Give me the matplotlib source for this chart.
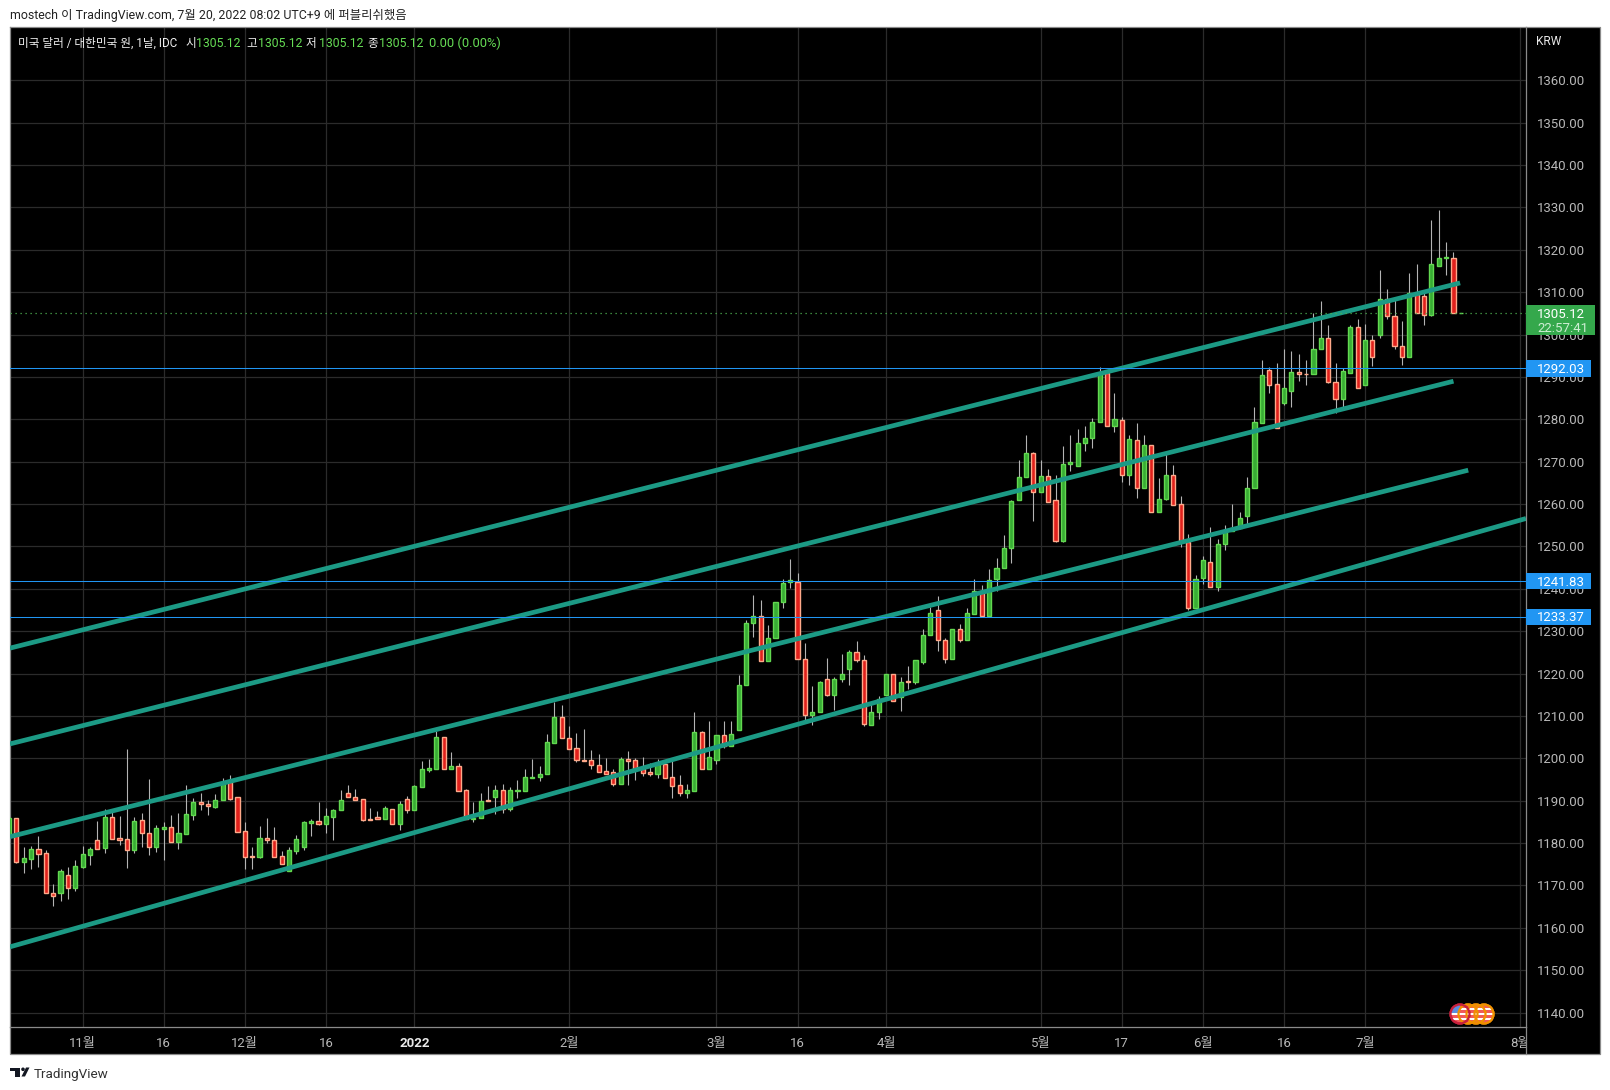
import matplotlib
matplotlib.use("Agg")
import matplotlib.pyplot as plt
from matplotlib.patches import Rectangle, Circle, Polygon
from matplotlib.transforms import Bbox
import numpy as np

plt.rcParams['font.family'] = ['Roboto', 'Noto Sans CJK KR', 'DejaVu Sans']

# first value is the bar cut off by the left edge of the chart
opens = [1181.9,
    1185.8,1175.6,1176.3,1178.7,1177.6,1168.3,1168.3,1172.4,1169.4,1174.4,
    1177.2,1180.6,1178.9,1186.1,1181.2,1180.9,1178.4,1185.4,1182.3,1179.1,
    1183.4,1183.9,1180.3,1182.2,1186.7,1189.6,1189.1,1188.5,1190.2,1194.3,
    1190.8,1182.8,1176.9,1176.8,1181.1,1180.6,1176.9,1173.5,1178.2,1179.1,
    1184.8,1185.1,1184.6,1186.1,1187.9,1191.7,1190.8,1190.3,1185.6,1186.1,
    1185.6,1188.0,1184.5,1190.5,1187.8,1193.3,1197.2,1197.5,1205.0,1197.5,
    1198.1,1192.4,1185.7,1185.9,1190.1,1190.8,1192.6,1188.0,1192.3,1192.3,
    1195.4,1195.7,1196.4,1203.7,1209.7,1204.7,1202.4,1199.6,1199.5,1198.3,
    1196.9,1196.8,1194.0,1199.8,1199.5,1197.4,1196.7,1196.4,1198.6,1195.5,
    1193.6,1191.9,1192.3,1206.2,1197.5,1199.7,1205.5,1203.0,1206.7,1217.3,
    1232.0,1233.5,1223.0,1228.4,1236.9,1241.7,1241.5,1223.5,1210.2,1210.9,
    1218.6,1215.0,1218.7,1221.1,1225.0,1223.3,1207.9,1210.9,1215.0,1219.8,
    1214.5,1218.2,1218.0,1222.8,1229.1,1234.9,1228.0,1223.5,1230.6,1228.0,
    1234.1,1239.4,1233.6,1242.2,1244.9,1249.6,1260.9,1266.3,1272.1,1262.8,
    1266.6,1261.0,1251.4,1269.4,1268.9,1274.3,1275.5,1279.3,1290.9,1278.4,
    1279.9,1266.8,1275.1,1263.7,1274.0,1258.1,1261.1,1266.9,1260.0,1251.1,
    1235.4,1242.5,1246.3,1240.4,1250.5,1253.7,1254.4,1257.3,1263.8,1279.2,
    1291.7,1288.3,1283.8,1286.8,1291.2,1290.8,1290.6,1296.6,1299.2,1288.8,
    1284.9,1290.9,1301.9,1288.0,1298.8,1299.9,1308.3,1304.5,1297.4,1294.7,
    1309.9,1309.0,1304.6,1316.2,1318.0,1318.0,1305.12]

highs = [1185.8,
    1185.8,1179.1,1179.4,1181.7,1178.3,1170.3,1173.9,1174.3,1176.0,1179.3,
    1179.1,1185.2,1188.0,1187.8,1186.4,1202.2,1186.1,1187.2,1195.1,1184.3,
    1185.0,1186.6,1187.1,1193.7,1190.6,1191.8,1190.2,1191.6,1195.3,1196.1,
    1190.8,1185.0,1179.0,1184.0,1185.9,1183.8,1178.1,1179.0,1181.8,1185.1,
    1185.7,1189.7,1188.3,1188.0,1192.5,1193.7,1192.8,1190.3,1188.3,1187.6,
    1188.7,1188.0,1189.9,1191.0,1193.6,1199.4,1199.8,1206.5,1205.0,1201.5,
    1198.8,1192.7,1189.6,1191.8,1193.4,1193.7,1193.9,1193.2,1194.9,1197.5,
    1199.8,1198.2,1205.7,1213.4,1212.6,1207.7,1206.0,1207.0,1202.0,1201.0,
    1200.1,1197.4,1200.3,1201.7,1200.1,1200.3,1198.8,1199.8,1198.8,1199.4,
    1196.0,1193.9,1211.0,1206.5,1208.9,1205.5,1208.9,1208.9,1219.6,1232.6,
    1238.5,1237.3,1231.4,1237.0,1242.3,1247.0,1243.7,1227.2,1217.0,1218.3,
    1223.6,1219.3,1224.6,1225.5,1227.6,1224.3,1213.0,1214.8,1219.8,1220.0,
    1219.1,1221.7,1223.3,1230.4,1235.6,1238.2,1228.5,1230.6,1231.8,1235.4,
    1242.3,1240.9,1244.6,1247.3,1252.7,1261.0,1270.5,1276.4,1272.3,1270.3,
    1268.3,1266.9,1273.7,1276.4,1277.8,1278.5,1280.3,1292.4,1290.9,1286.3,
    1280.6,1276.2,1279.2,1276.4,1274.0,1266.2,1271.9,1269.3,1262.0,1253.0,
    1243.3,1247.8,1254.7,1251.8,1255.1,1260.1,1258.2,1266.5,1282.8,1294.0,
    1292.4,1293.4,1296.5,1296.2,1295.5,1294.1,1305.2,1307.9,1302.2,1293.4,
    1292.1,1302.2,1303.6,1302.4,1300.0,1315.2,1310.7,1308.3,1303.1,1314.5,
    1316.6,1309.8,1327.1,1329.4,1321.9,1319.5,1305.12]

lows = [1181.9,
    1175.2,1173.0,1173.9,1174.4,1168.1,1165.2,1166.4,1166.9,1168.7,1174.2,
    1174.9,1178.7,1177.6,1181.0,1179.5,1174.2,1177.6,1179.1,1177.2,1177.9,
    1176.1,1180.3,1178.6,1182.2,1185.4,1187.8,1186.6,1188.3,1190.2,1190.2,
    1182.7,1173.9,1173.9,1176.5,1180.0,1176.8,1175.1,1173.5,1177.4,1178.4,
    1181.7,1184.3,1182.4,1180.7,1187.7,1190.9,1190.2,1185.3,1185.4,1185.6,
    1185.6,1184.5,1183.1,1187.0,1187.8,1193.3,1196.8,1197.5,1197.5,1197.5,
    1192.3,1185.7,1184.9,1185.9,1190.0,1186.8,1187.0,1187.5,1190.6,1192.3,
    1195.4,1194.6,1196.4,1203.7,1204.7,1202.3,1199.2,1199.4,1197.5,1196.8,
    1196.4,1193.5,1194.0,1193.7,1194.9,1195.8,1195.8,1195.3,1195.4,1190.6,
    1191.1,1190.6,1192.3,1197.5,1197.5,1198.7,1202.5,1203.0,1206.7,1217.3,
    1228.6,1223.0,1223.0,1228.4,1235.5,1240.2,1223.5,1208.5,1207.8,1210.9,
    1214.7,1211.3,1218.0,1217.2,1222.7,1207.6,1207.9,1209.3,1215.0,1213.6,
    1211.1,1216.3,1217.6,1222.3,1229.1,1225.3,1222.5,1223.5,1227.4,1228.0,
    1234.1,1233.4,1233.6,1239.6,1244.9,1246.0,1260.9,1266.3,1255.9,1262.8,
    1260.4,1251.0,1251.0,1267.7,1268.9,1272.6,1273.3,1279.3,1278.4,1277.1,
    1265.1,1264.6,1261.5,1263.7,1258.1,1258.1,1260.9,1259.7,1249.8,1234.9,
    1235.4,1241.1,1240.4,1239.4,1249.1,1253.7,1254.1,1254.5,1263.8,1279.2,
    1286.1,1278.0,1283.3,1283.0,1289.0,1288.0,1290.6,1296.6,1288.5,1281.6,
    1282.3,1290.9,1287.5,1288.0,1292.5,1299.3,1303.6,1296.5,1292.9,1294.7,
    1305.2,1302.2,1304.3,1316.2,1314.0,1305.2,1305.12]

closes = [1185.8,
    1175.6,1176.4,1178.7,1177.5,1168.3,1167.4,1173.3,1169.4,1174.5,1177.3,
    1178.5,1178.7,1186.1,1181.0,1180.8,1178.4,1185.1,1182.4,1179.1,1183.5,
    1183.9,1180.3,1182.3,1186.8,1189.8,1189.1,1188.8,1190.1,1194.3,1190.5,
    1182.7,1176.8,1176.7,1181.1,1180.6,1176.8,1175.1,1178.3,1180.9,1184.9,
    1185.1,1184.6,1186.3,1187.7,1190.1,1190.9,1190.2,1185.5,1185.4,1185.6,
    1188.2,1184.5,1189.3,1187.8,1193.4,1197.4,1197.6,1205.0,1197.5,1198.1,
    1192.3,1185.7,1186.0,1190.0,1190.0,1192.4,1188.0,1192.4,1192.5,1195.5,
    1195.7,1196.4,1203.8,1209.7,1204.7,1202.3,1199.5,1199.4,1198.3,1196.8,
    1196.4,1194.0,1199.8,1199.4,1197.3,1196.6,1196.4,1198.6,1195.4,1193.5,
    1191.9,1192.4,1206.2,1197.5,1200.2,1205.5,1203.0,1205.7,1217.4,1232.0,
    1233.5,1223.0,1228.5,1237.0,1241.3,1242.0,1223.5,1210.2,1211.0,1218.1,
    1215.0,1218.6,1220.0,1225.0,1223.2,1208.1,1211.0,1214.1,1219.8,1213.6,
    1218.1,1218.0,1223.1,1229.2,1234.2,1228.0,1223.5,1230.6,1228.0,1234.2,
    1239.4,1233.6,1242.0,1244.9,1249.6,1260.7,1266.4,1272.1,1262.8,1266.6,
    1260.4,1251.4,1269.5,1269.9,1274.4,1275.6,1279.4,1290.9,1278.4,1280.1,
    1266.8,1275.4,1263.7,1274.0,1258.1,1261.2,1266.9,1259.9,1251.0,1235.4,
    1242.3,1246.8,1240.4,1250.6,1253.7,1254.4,1256.7,1263.8,1279.4,1290.5,
    1288.0,1278.0,1287.4,1291.2,1290.6,1290.6,1296.6,1299.2,1288.7,1284.9,
    1291.4,1301.9,1287.5,1298.8,1294.7,1308.3,1304.4,1297.3,1294.7,1309.9,
    1305.2,1304.6,1316.6,1318.0,1318.2,1305.2,1305.12]

# channel lines: bar index and price at both ends
channelX = [[-0.86, 195.9], [-0.86, 195.0], [-0.86, 197.0], [-0.86, 204.84]]
channelY = [[1226.0, 1312.2], [1203.4, 1289.0], [1181.5, 1268.0], [1155.5, 1256.6]]

levels = [1292.03, 1241.83, 1233.37]
lastPrice = 1305.12
countdown = "22:57:41"

priceTicks = list(range(1140, 1370, 10))
timeTicks = [9, 20, 31, 42, 54, 75, 95, 106, 118, 139, 150, 161, 172, 183, 204]
timeLabels = ["11월", "16", "12월", "16", "2022", "2월", "3월", "16", "4월", "5월", "17", "6월", "16", "7월", "8월"]

W, H = 1610, 1090
fig = plt.figure(figsize=(W / 100, H / 100), dpi=100, facecolor="white")

# black strips behind the price and time scales
fig.add_artist(Rectangle((1526 / W, (H - 1054) / H), 74 / W, 1027 / H, transform=fig.transFigure,
                         facecolor="black", edgecolor="none", zorder=-1))
fig.add_artist(Rectangle((10 / W, (H - 1054) / H), 1590 / W, 27 / H, transform=fig.transFigure,
                         facecolor="black", edgecolor="none", zorder=-1))

ax = fig.add_axes([10 / W, (H - 1027) / H, 1516 / W, 1000 / H], facecolor="black")
ax.set_xlim(-0.86, 204.84)
ax.set_ylim(1136.58, 1372.6)

gridColor = "#2b2b2b"
ax.set_yticks(priceTicks)
ax.set_yticklabels(["%.2f" % p for p in priceTicks])
ax.set_xticks(timeTicks)
ax.set_xticklabels(timeLabels)
ax.yaxis.tick_right()
ax.grid(True, color=gridColor, linewidth=0.9)
ax.set_axisbelow(True)
ax.tick_params(axis="y", length=0, pad=8, labelsize=9.5, labelcolor="#b8b8b8")
ax.tick_params(axis="x", length=0, pad=7.5, labelsize=9.5, labelcolor="#b8b8b8")
for s in ax.spines.values():
    s.set_color("#8a8a8a")
    s.set_linewidth(0.9)

for lab, txt in zip(ax.get_xticklabels(), timeLabels):
    if txt == "2022":
        lab.set_fontweight("bold")
        lab.set_color("#e8e8e8")
    if txt == "8월":
        lab.set_clip_on(True)
        lab.set_clip_box(Bbox([[0, 0], [1526, H]]))

x = np.arange(len(opens)) - 1
o = np.array(opens)
c = np.array(closes)
up = c >= o
ax.vlines(x, lows, highs, color="#b4b4b4", linewidth=0.8, zorder=2)
ax.bar(x[up], (c - o)[up], bottom=o[up], width=0.56, color="#38ac34", edgecolor="#62d850",
       linewidth=1.0, zorder=3)
ax.bar(x[~up], (c - o)[~up], bottom=o[~up], width=0.56, color="#e0211c", edgecolor="#ffa98a",
       linewidth=1.0, zorder=3)

for cx, cy in zip(channelX, channelY):
    ax.plot(cx, cy, color="#1c9a85", linewidth=3.4, solid_capstyle="butt", zorder=4)
for lv in levels:
    ax.axhline(lv, color="#2196f3", linewidth=0.75, zorder=5)
ax.axhline(lastPrice, color="#4caf50", linewidth=0.9, linestyle=(0, (1, 3)), zorder=5)

# everything around the plot in picture pixels
ov = fig.add_axes([0, 0, 1, 1], facecolor="none")
ov.set_xlim(0, W)
ov.set_ylim(H, 0)
ov.axis("off")

ov.plot([1526, 1600, 1600, 10, 10], [27, 27, 1054, 1054, 1027], color="#8a8a8a", linewidth=0.9)
ov.plot([1526, 1526], [1027, 1054], color="#8a8a8a", linewidth=0.9)

ov.text(10, 16, "mostech 이 TradingView.com, 7월 20, 2022 08:02 UTC+9 에 퍼블리쉬했음",
        fontsize=8.9, color="#222222", va="center")

legColor = "#66dd55"
legY = 43.5
ov.text(17.9, legY, "미국 달러 / 대한민국 원, 1날, IDC", fontsize=8.4, color="#f0f0f0", va="center")
for px, name in zip([185, 246, 306, 367], ["시", "고", "저", "종"]):
    ov.text(px, legY, name, fontsize=8.4, color="#f0f0f0", va="center")
for px in [196.3, 257.6, 318.5, 378.8]:
    ov.text(px, legY, "%.2f" % lastPrice, fontsize=8.8, color=legColor, va="center")
ov.text(429.4, legY, "0.00 (0.00%)", fontsize=9.3, color=legColor, va="center")

ov.text(1536, 41.5, "KRW", fontsize=8.6, color="#e8e8e8", va="center")

def priceY(p):
    return 1012.5 - (p - 1140) * 4.237

for lv in levels:
    yy = priceY(lv)
    ov.add_patch(Rectangle((1526, yy - 8.3), 65, 16.6, facecolor="#2196f3", edgecolor="none", zorder=3))
    ov.text(1537, yy + 1, "%.2f" % lv, fontsize=9.5, color="white", va="center", zorder=4)

ov.add_patch(Rectangle((1526, 305), 69, 30, facecolor="#35a84c", edgecolor="none", zorder=3))
ov.text(1537, 314.5, "%.2f" % lastPrice, fontsize=9.5, color="white", va="center", zorder=4)
ov.text(1537, 328, countdown, fontsize=9.5, color="#cdeed3", va="center", zorder=4)

# stacked flag badges
def drawFlag(cx, ring, front=False):
    circ = Circle((cx, 1014), 9.5, facecolor="#f05a5a", edgecolor=ring, linewidth=1.6, zorder=6)
    ov.add_patch(circ)
    for sy in [1008, 1013, 1018]:
        st = Rectangle((cx - 10, sy), 20, 2.2, facecolor="white", edgecolor="none", zorder=6.1)
        ov.add_patch(st)
        st.set_clip_path(circ)
    if front:
        bl = Rectangle((cx - 10, 1004), 10, 9, facecolor="#5a8fe0", edgecolor="none", zorder=6.1)
        ov.add_patch(bl)
        bl.set_clip_path(circ)
    ov.add_patch(Circle((cx, 1014), 9.5, facecolor="none", edgecolor=ring, linewidth=1.6, zorder=6.2))

for cx in [1484, 1476, 1468]:
    drawFlag(cx, "#f09000")
drawFlag(1460, "#c8203c", True)

# logo + name under the chart
ov.add_patch(Rectangle((10, 1067.5), 10, 3, facecolor="#131722", edgecolor="none"))
ov.add_patch(Rectangle((15, 1067.5), 5, 9, facecolor="#131722", edgecolor="none"))
ov.add_patch(Circle((23, 1069.3), 1.8, facecolor="#131722", edgecolor="none"))
ov.add_patch(Polygon([[26, 1067.5], [29.5, 1067.5], [25, 1076.5], [21.5, 1076.5]], facecolor="#131722", edgecolor="none"))
ov.text(34, 1074.5, "TradingView", fontsize=9.7, color="#333333", va="center")

fig.savefig("out.png", dpi=100, facecolor="white")
